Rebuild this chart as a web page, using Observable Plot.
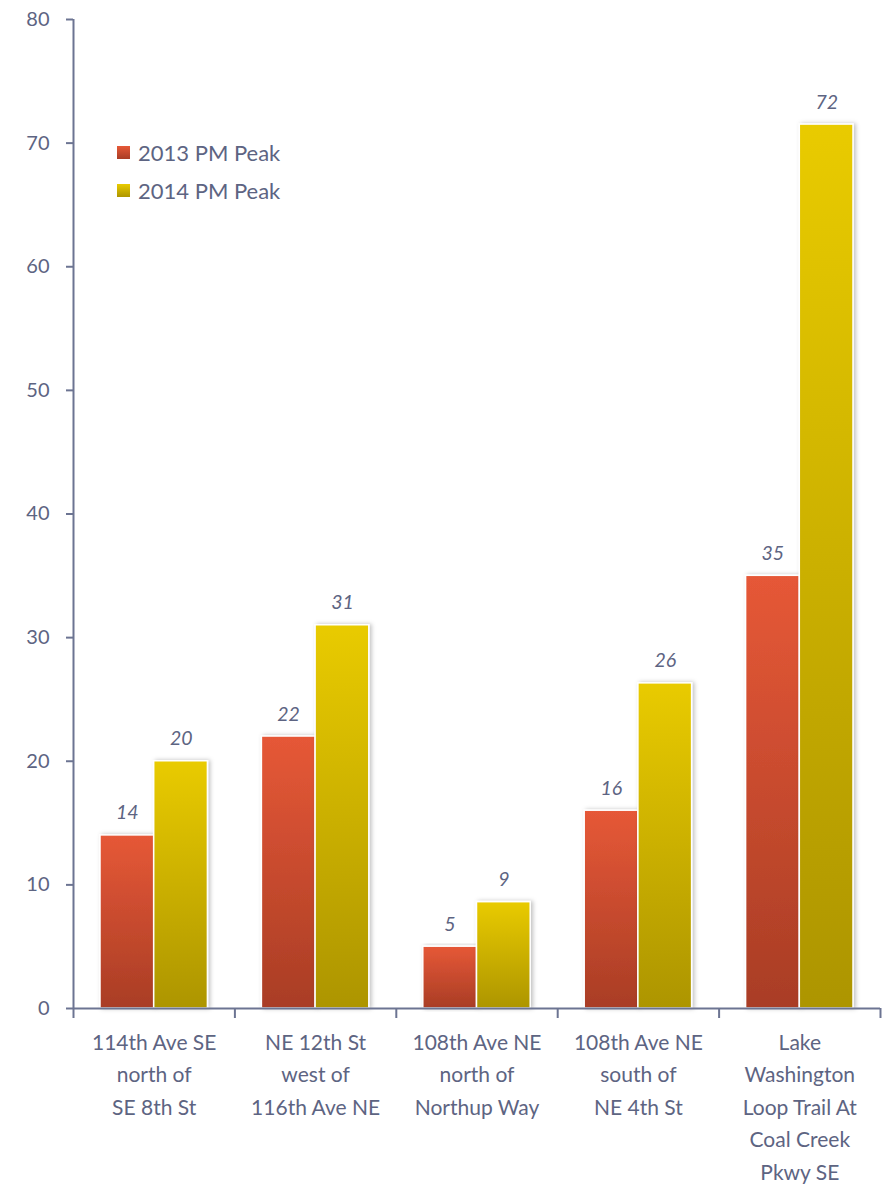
<!DOCTYPE html>
<html>
<head>
<meta charset="utf-8">
<script src="https://cdn.jsdelivr.net/npm/d3@7"></script>
<script src="https://cdn.jsdelivr.net/npm/@observablehq/plot@0.6"></script>
<style>
  html, body { margin: 0; padding: 0; background: #fff; }
  #wrap { position: relative; width: 888px; height: 1189px; font-family: Lato, "Open Sans", sans-serif; }
  #legend { position: absolute; left: 117px; top: 133px; color: #5d6482; font-size: 22px; }
  #legend .row { display: flex; align-items: center; height: 38px; }
  #legend .sw { width: 13px; height: 13px; margin-right: 8px; }
</style>
</head>
<body>
<div id="wrap"><div id="chart"></div><div id="legend"></div></div>
<script>
const sites = [
  "114th Ave SE\nnorth of\nSE 8th St",
  "NE 12th St\nwest of\n116th Ave NE",
  "108th Ave NE\nnorth of\nNorthup Way",
  "108th Ave NE\nsouth of\nNE 4th St",
  "Lake\nWashington\nLoop Trail At\nCoal Creek\nPkwy SE"
];
const series = ["2013 PM Peak", "2014 PM Peak"];
const pm2013 = [14, 22, 5, 16, 35];
const pm2014 = [20, 31, 8.6, 26.3, 71.5];
const labels2013 = ["14", "22", "5", "16", "35"];
const labels2014 = ["20", "31", "9", "26", "72"];
const yTicks = [0, 10, 20, 30, 40, 50, 60, 70, 80];

const rows2013 = sites.map((s, i) => ({i, site: s, value: pm2013[i], label: labels2013[i]}));
const rows2014 = sites.map((s, i) => ({i, site: s, value: pm2014[i], label: labels2014[i]}));
const siteRows = sites.map((s, i) => ({i, site: s}));
const bounds = d3.range(sites.length + 1);

const axisColor = "#6c7492";
const textColor = "#5d6482";

const chart = Plot.plot({
  width: 888,
  height: 1189,
  marginTop: 19,
  marginBottom: 181,
  marginLeft: 73,
  marginRight: 8,
  style: {fontFamily: "Lato, 'Open Sans', sans-serif", color: textColor, background: "#fff"},
  x: {type: "linear", domain: [0, sites.length], axis: null},
  y: {type: "linear", domain: [0, 80], axis: null},
  marks: [
    Plot.rectY(rows2013, {x1: "i", x2: d => d.i + 0.5, y: "value", fill: "url(#g2013)", stroke: "#fff", strokeWidth: 1.5, insetLeft: 27, insetRight: 0}),
    Plot.rectY(rows2014, {x1: d => d.i + 0.5, x2: d => d.i + 1, y: "value", fill: "url(#g2014)", stroke: "#fff", strokeWidth: 1.5, insetLeft: 0, insetRight: 27}),
    Plot.text(rows2013, {x: d => d.i + 0.5, y: "value", text: "label", dx: -27, dy: -16, lineAnchor: "bottom", fontStyle: "italic", fontSize: 19.5, fill: textColor}),
    Plot.text(rows2014, {x: d => d.i + 0.5, y: "value", text: "label", dx: 27, dy: -16, lineAnchor: "bottom", fontStyle: "italic", fontSize: 19.5, fill: textColor}),
    // y axis
    Plot.ruleX([0], {stroke: axisColor, strokeWidth: 2}),
    Plot.axisY({ticks: yTicks, tickSize: 7, tickPadding: 17, fontSize: 20, stroke: axisColor, color: textColor, strokeWidth: 2, label: null, tickFormat: d => String(d)}),
    // x axis
    Plot.ruleY([0], {stroke: axisColor, strokeWidth: 2}),
    Plot.axisX({ticks: bounds, tickSize: 10, tickFormat: () => "", stroke: axisColor, strokeWidth: 2, label: null}),
    Plot.text(siteRows, {x: d => d.i + 0.5, y: 0, text: "site", lineAnchor: "top", dy: 18, lineHeight: 1.55, fontSize: 21, fill: textColor})
  ]
});

const ns = "http://www.w3.org/2000/svg";
const defs = document.createElementNS(ns, "defs");
defs.innerHTML = `
  <linearGradient id="g2013" x1="0" y1="0" x2="0" y2="1">
    <stop offset="0" stop-color="#e65837"/>
    <stop offset="1" stop-color="#a93d25"/>
  </linearGradient>
  <linearGradient id="g2014" x1="0" y1="0" x2="0" y2="1">
    <stop offset="0" stop-color="#e9cb00"/>
    <stop offset="1" stop-color="#ad9500"/>
  </linearGradient>
  <filter id="shadow" x="-20%" y="-5%" width="140%" height="110%">
    <feDropShadow dx="2" dy="0" stdDeviation="2" flood-color="#000" flood-opacity="0.25"/>
  </filter>`;
chart.insertBefore(defs, chart.firstChild);
chart.querySelectorAll("g[aria-label='rect'] rect").forEach(r => r.setAttribute("filter", "url(#shadow)"));

document.getElementById("chart").appendChild(chart);

const legend = document.getElementById("legend");
const grads = ["linear-gradient(#e65837,#a93d25)", "linear-gradient(#e9cb00,#ad9500)"];
series.forEach((s, k) => {
  const row = document.createElement("div");
  row.className = "row";
  const sw = document.createElement("div");
  sw.className = "sw";
  sw.style.background = grads[k];
  const t = document.createElement("span");
  t.textContent = s;
  row.appendChild(sw);
  row.appendChild(t);
  legend.appendChild(row);
});
</script>
</body>
</html>
